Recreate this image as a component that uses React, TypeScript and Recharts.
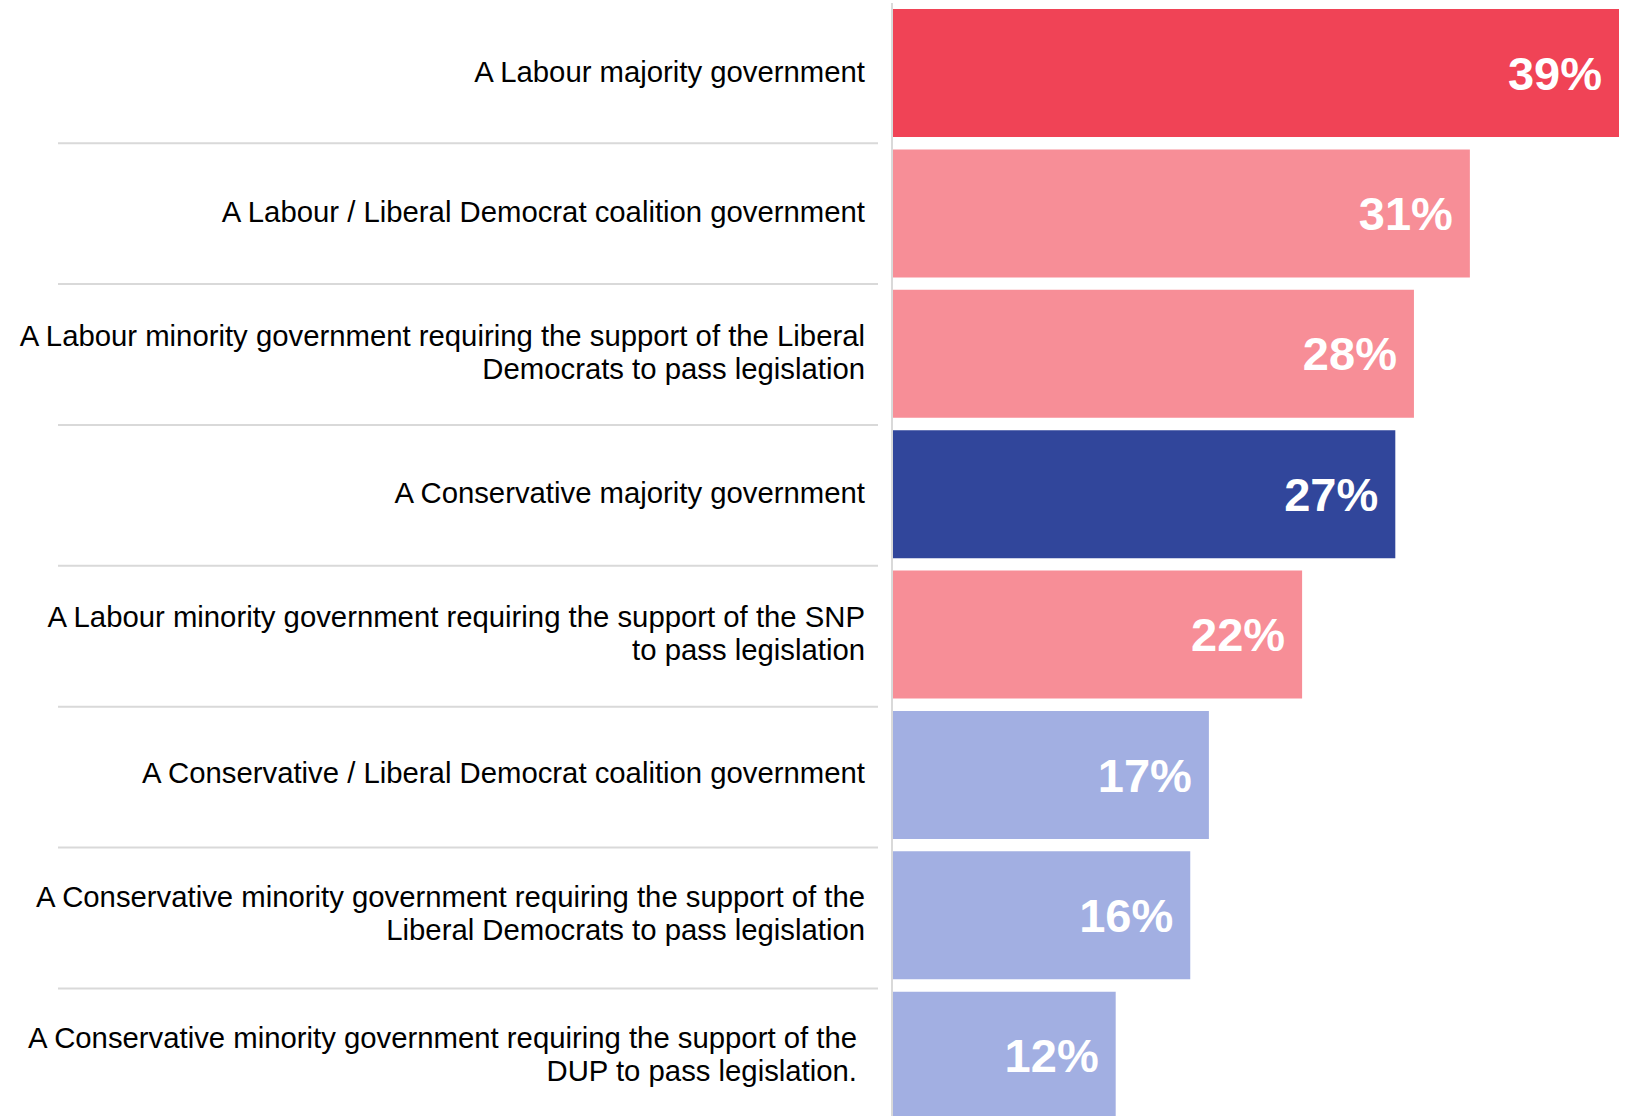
import React from 'react';
import { BarChart, Bar, XAxis, YAxis, Cell, LabelList } from 'recharts';

const categories: string[] = [
  'A Labour majority government',
  'A Labour / Liberal Democrat coalition government',
  'A Labour minority government requiring the support of the Liberal\nDemocrats to pass legislation',
  'A Conservative majority government',
  'A Labour minority government requiring the support of the SNP\nto pass legislation',
  'A Conservative / Liberal Democrat coalition government',
  'A Conservative minority government requiring the support of the\nLiberal Democrats to pass legislation',
  'A Conservative minority government requiring the support of the\nDUP to pass legislation.',
];
const values: number[] = [39, 31, 28, 27, 22, 17, 16, 12];
const barColors: string[] = ['#F04356', '#F78E97', '#F78E97', '#31469B', '#F78E97', '#A2AFE2', '#A2AFE2', '#A2AFE2'];

const data = categories.map((name, i) => ({ name, value: values[i] }));

const FONT = '"Liberation Sans", Arial, Helvetica, sans-serif';

const CategoryTick = (props: any) => {
  const { x, y, payload, index } = props;
  const lines = String(payload.value).split('\n');
  const lh = 33;
  const isLast = index === categories.length - 1;
  const tx = x - 27 - (isLast ? 8 : 0);
  const y0 = y - 2 - ((lines.length - 1) * lh) / 2;
  const sepY = y + 70 + index * 0.5;
  return (
    <g>
      <text textAnchor="end" fontSize={29.3} fill="#000" fontFamily={FONT}>
        {lines.map((l, i) => (
          <tspan key={i} x={tx} y={y0 + i * lh} dy="0.355em">
            {l}
          </tspan>
        ))}
      </text>
      {!isLast && (
        <line x1={x - 834} x2={x - 14} y1={sepY} y2={sepY} stroke="#D9D9D9" strokeWidth={2} />
      )}
    </g>
  );
};

export default function App() {
  return (
    <div style={{ position: 'absolute', left: 0, top: 0, width: 1629, height: 1116, overflow: 'hidden', background: '#fff' }}>
      <BarChart
        width={1629}
        height={1126}
        data={data}
        layout="vertical"
        margin={{ top: 3, right: 10, bottom: 0, left: 0 }}
      >
        <XAxis type="number" domain={[0, 39]} hide />
        <YAxis
          type="category"
          dataKey="name"
          width={892}
          interval={0}
          tickSize={0}
          tickMargin={0}
          tickLine={false}
          axisLine={{ stroke: '#D9D9D9', strokeWidth: 2 }}
          tick={<CategoryTick />}
        />
        <Bar dataKey="value" barSize={128} isAnimationActive={false}>
          {data.map((_, i) => (
            <Cell key={i} fill={barColors[i]} />
          ))}
          <LabelList
            dataKey="value"
            position="insideRight"
            offset={17}
            formatter={(v: any) => `${v}%`}
            fill="#FFFFFF"
            fontSize={47}
            fontWeight={700}
            fontFamily={FONT}
          />
        </Bar>
      </BarChart>
    </div>
  );
}
